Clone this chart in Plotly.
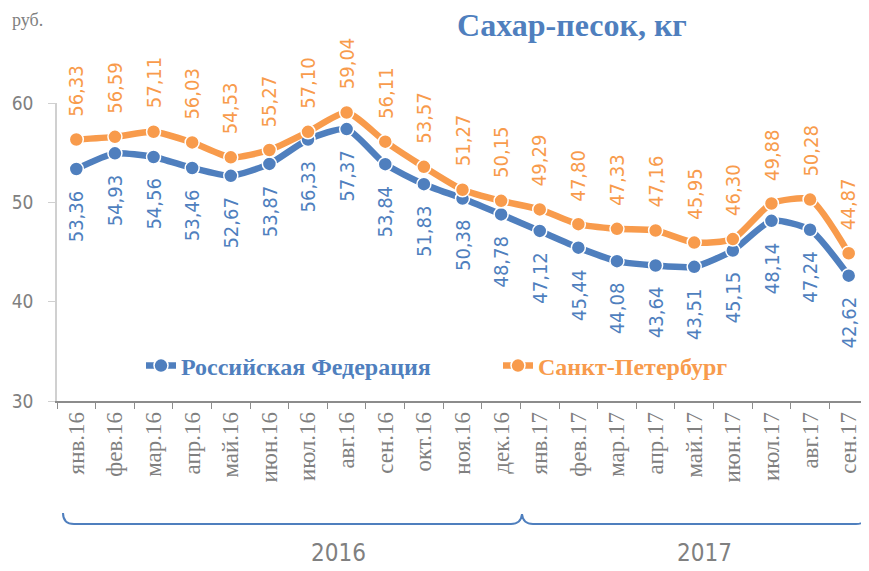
import plotly.graph_objects as go

MONTHS = ["янв.16", "фев.16", "мар.16", "апр.16", "май.16", "июн.16", "июл.16",
          "авг.16", "сен.16", "окт.16", "ноя.16", "дек.16", "янв.17", "фев.17",
          "мар.17", "апр.17", "май.17", "июн.17", "июл.17", "авг.17", "сен.17"]
RF = [53.36, 54.93, 54.56, 53.46, 52.67, 53.87, 56.33, 57.37, 53.84, 51.83, 50.38,
      48.78, 47.12, 45.44, 44.08, 43.64, 43.51, 45.15, 48.14, 47.24, 42.62]
SPB = [56.33, 56.59, 57.11, 56.03, 54.53, 55.27, 57.10, 59.04, 56.11, 53.57, 51.27,
       50.15, 49.29, 47.80, 47.33, 47.16, 45.95, 46.30, 49.88, 50.28, 44.87]
YEARS = ["2016", "2017"]

BLUE = "#4F7FBE"
ORANGE = "#F89B4C"
GRAY = "#808080"
NARROW = "DejaVu Sans Condensed, Liberation Sans Narrow, sans-serif"
SERIF = "Liberation Serif, Times New Roman, serif"

# page body has an 8px margin; size the figure so the plot area lands where it should
OFF = 8
W, H = 861, 563
L, R, T, B = 49, 1, 95, 170
PW, PH = W - L - R, H - T - B


def px(x):  # screen x -> paper
    return (x - OFF - L) / PW


def py(y):  # screen y -> paper
    return (H - B - (y - OFF)) / PH


def fmt(v):
    return f"{v:.2f}".replace(".", ",")


fig = go.Figure()
for name, vals, col in [("Российская Федерация", RF, BLUE),
                        ("Санкт-Петербург", SPB, ORANGE)]:
    fig.add_trace(go.Scatter(
        x=MONTHS, y=vals, mode="lines+markers",
        name=f"<span style='color:{col}'><b>{name}</b></span>",
        line=dict(color=col, width=6.5, shape="spline", smoothing=0.6),
        marker=dict(color=col, size=14, line=dict(color="white", width=1.5)),
        cliponaxis=False,
    ))

# vertical data labels
for m, v in zip(MONTHS, SPB):
    fig.add_annotation(x=m, y=v, text=fmt(v), textangle=-90, showarrow=False,
                       yanchor="bottom", yshift=21,
                       font=dict(family=NARROW, size=20, color=ORANGE))
for m, v in zip(MONTHS, RF):
    fig.add_annotation(x=m, y=v, text=fmt(v), textangle=-90, showarrow=False,
                       yanchor="top", yshift=-19,
                       font=dict(family=NARROW, size=20, color=BLUE))

fig.add_annotation(xref="paper", yref="paper", x=px(10), y=py(20), text="руб.",
                   showarrow=False, xanchor="left", yanchor="middle",
                   font=dict(family=SERIF, size=18, color=GRAY))

for yr, cx in zip(YEARS, [338, 734]):
    fig.add_annotation(xref="paper", yref="paper", x=px(cx), y=py(553), text=yr,
                       showarrow=False, yanchor="middle",
                       font=dict(family=NARROW, size=24, color=GRAY))

brace = (f"M {px(63)},{py(513)} Q {px(63)},{py(524)} {px(74)},{py(524)} "
         f"L {px(511)},{py(524)} Q {px(521)},{py(524)} {px(522)},{py(514)} "
         f"Q {px(523)},{py(524)} {px(533)},{py(524)} "
         f"L {px(856)},{py(524)} Q {px(867)},{py(524)} {px(867)},{py(513)}")
fig.add_shape(type="path", xref="paper", yref="paper", path=brace,
              line=dict(color=BLUE, width=2))

fig.update_layout(
    width=W, height=H,
    margin=dict(l=L, r=R, t=T, b=B),
    plot_bgcolor="white", paper_bgcolor="white",
    title=dict(text="<b>Сахар-песок, кг</b>", xref="container", yref="container",
               x=(572 - OFF) / W, y=1 - (25 - OFF) / H, xanchor="center",
               yanchor="middle",
               font=dict(family=SERIF, size=32, color=BLUE)),
    legend=dict(orientation="h", x=px(141), y=py(366), xanchor="left",
                yanchor="middle", bgcolor="rgba(0,0,0,0)",
                font=dict(family=SERIF, size=24),
                entrywidth=312, entrywidthmode="pixels"),
    xaxis=dict(type="category", range=[-0.5, len(MONTHS) - 0.5], tickangle=-90,
               automargin=False,
               showgrid=False, showline=True, linecolor="#8C8C8C", linewidth=1.5,
               ticks="outside", tickson="boundaries", ticklen=6, tickcolor="#8C8C8C",
               tickfont=dict(family=SERIF, size=23, color=GRAY)),
    yaxis=dict(range=[30, 60], dtick=10, showgrid=False, zeroline=False,
               automargin=False,
               showline=True, linecolor="#D0D0D0", linewidth=1.5,
               ticks="outside", ticklen=7, tickcolor="#D0D0D0", ticklabelstandoff=11,
               tickfont=dict(family=NARROW, size=19, color=GRAY)),
)

fig.write_html("out.html")
